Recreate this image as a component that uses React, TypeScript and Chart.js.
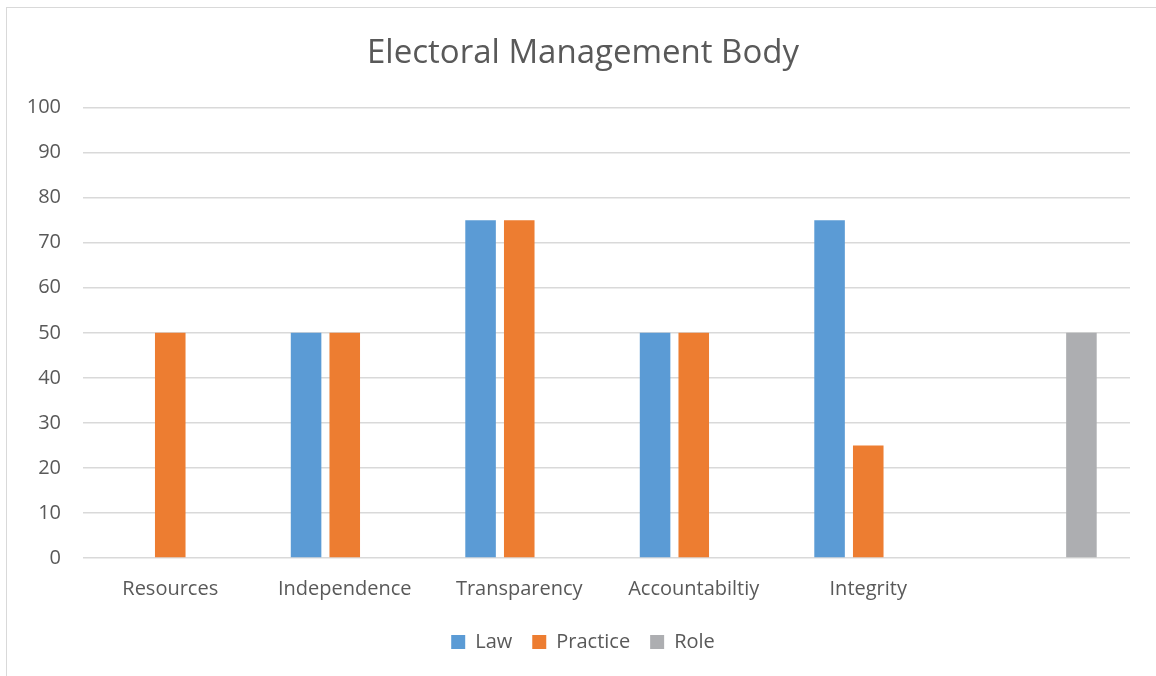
import React, { useEffect, useRef } from "react";
import { Chart, registerables } from "chart.js";

Chart.register(...registerables);

const categories = ["Resources", "Independence", "Transparency", "Accountabiltiy", "Integrity", ""];
const lawValues = [0, 50, 75, 50, 75, 0];
const practiceValues = [50, 50, 75, 50, 25, 0];
const roleValues = [0, 0, 0, 0, 0, 50];
const seriesNames = ["Law", "Practice", "Role"];
const seriesColors = ["#5B9BD5", "#ED7D31", "#ADAEB1"];

const FONT = "'Open Sans', Lato, sans-serif";
const TEXT = "#595959";

export default function App() {
  const ref = useRef<HTMLCanvasElement | null>(null);

  useEffect(() => {
    if (!ref.current) return;
    const values = [lawValues, practiceValues, roleValues];
    const chart = new Chart(ref.current, {
      type: "bar",
      data: {
        labels: categories,
        datasets: seriesNames.map((name, i) => ({
          label: name,
          data: values[i],
          backgroundColor: seriesColors[i],
          borderWidth: 0,
          categoryPercentage: 0.665,
          barPercentage: 0.79,
        })),
      },
      options: {
        responsive: false,
        animation: false,
        layout: { padding: { left: 18, right: 8, top: 0, bottom: 14 } },
        plugins: {
          title: {
            display: true,
            text: "Electoral Management Body",
            color: TEXT,
            font: { family: FONT, size: 33, weight: "normal" },
            padding: { top: 34, bottom: 34 },
          },
          legend: {
            display: true,
            position: "bottom",
            labels: {
              color: TEXT,
              font: { family: FONT, size: 20 },
              boxWidth: 14,
              boxHeight: 14,
              padding: 20,
            },
          },
          tooltip: { enabled: false },
        },
        scales: {
          x: {
            grid: { display: false, drawTicks: false },
            border: { display: false },
            ticks: {
              color: TEXT,
              font: { family: FONT, size: 20 },
              padding: 19,
              maxRotation: 0,
              autoSkip: false,
            },
            afterFit: (scale: any) => {
              scale.height = 54;
            },
          },
          y: {
            min: 0,
            max: 100,
            ticks: {
              stepSize: 10,
              color: TEXT,
              font: { family: FONT, size: 20 },
              padding: 22,
            },
            grid: { color: "#D9D9D9", lineWidth: 1.5, drawTicks: false },
            border: { display: false },
            afterFit: (scale: any) => {
              scale.width = 65;
            },
          },
          yRight: {
            type: "linear",
            position: "right",
            min: 0,
            max: 100,
            grid: { display: false, drawTicks: false },
            border: { display: false },
            ticks: { display: false },
            afterFit: (scale: any) => {
              scale.width = 18;
            },
          },
        },
      },
    });
    return () => chart.destroy();
  }, []);

  return (
    <div style={{ position: "fixed", left: 0, top: 0, width: 1156, height: 676, background: "#fff", overflow: "hidden" }}>
      <div
        style={{
          position: "absolute",
          left: 6,
          top: 7,
          width: 1170,
          height: 690,
          border: "1.5px solid #D9D9D9",
          boxSizing: "border-box",
        }}
      />
      <canvas ref={ref} width={1156} height={676} style={{ position: "absolute", left: 0, top: 0 }} />
    </div>
  );
}
